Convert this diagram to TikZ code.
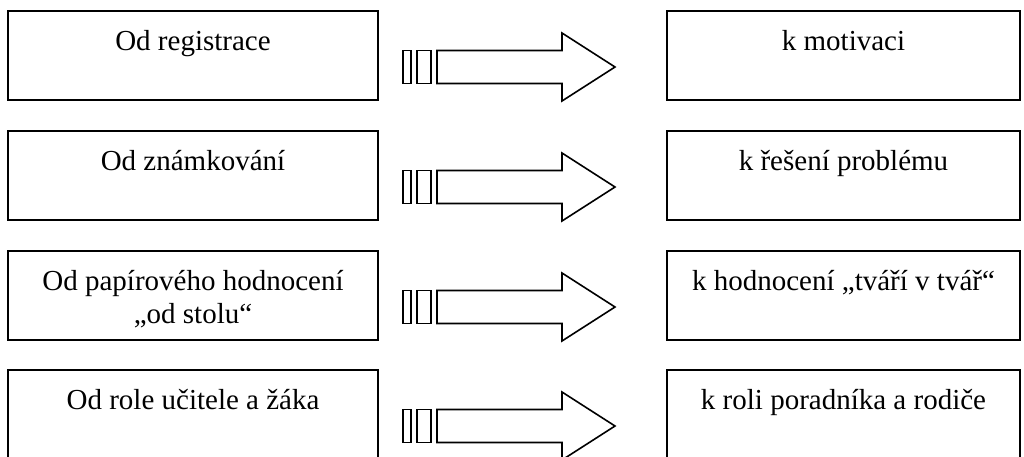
\documentclass[tikz,border=0pt]{standalone}
\usepackage{fontspec}
\setmainfont{Liberation Serif}
\tikzset{>=stealth}
\tikzset{
  box/.style={draw, line width=1.1pt, inner sep=0pt, align=center,
    font=\fontsize{14.5}{16.7}\selectfont, text height=19.5pt, text depth=25pt},
  twolines/.style={text height=36.2pt, text depth=8.3pt},
  leftbox/.style={box, minimum width=185pt},
  rightbox/.style={box, minimum width=176.5pt},
  blockarrow/.style={draw, line width=0.8pt}
}

\begin{document}
\begin{tikzpicture}[x=0.5pt, y=-0.5pt]
    \useasboundingbox (0,0) rectangle (1024,456);
    % left column
    \node[leftbox] (od1) at (193,55.5) {Od registrace};
    \node[leftbox] (od2) at (193,175.5) {Od známkování};
    \node[leftbox, twolines] (od3) at (193,295.5) {Od papírového hodnocení\\„od stolu“};
    \node[leftbox] (od4) at (193,414.5) {Od role učitele a žáka};
    % right column
    \node[rightbox] (k1) at (843.5,55.5) {k motivaci};
    \node[rightbox] (k2) at (843.5,175.5) {k řešení problému};
    \node[rightbox] (k3) at (843.5,295.5) {k hodnocení „tváří v tvář“};
    \node[rightbox] (k4) at (843.5,414.5) {k roli poradníka a rodiče};
    % striped arrows
    \foreach \yc in {67,187,307,426} {
      \draw[blockarrow] (403,\yc-16.5) rectangle (411,\yc+16.5);
      \draw[blockarrow] (417,\yc-16.5) rectangle (431,\yc+16.5);
      \draw[blockarrow] (437,\yc-16.5) -- (562,\yc-16.5) -- (562,\yc-34)
        -- (615,\yc) -- (562,\yc+34) -- (562,\yc+16.5) -- (437,\yc+16.5) -- cycle;
    }
\end{tikzpicture}
\end{document}
